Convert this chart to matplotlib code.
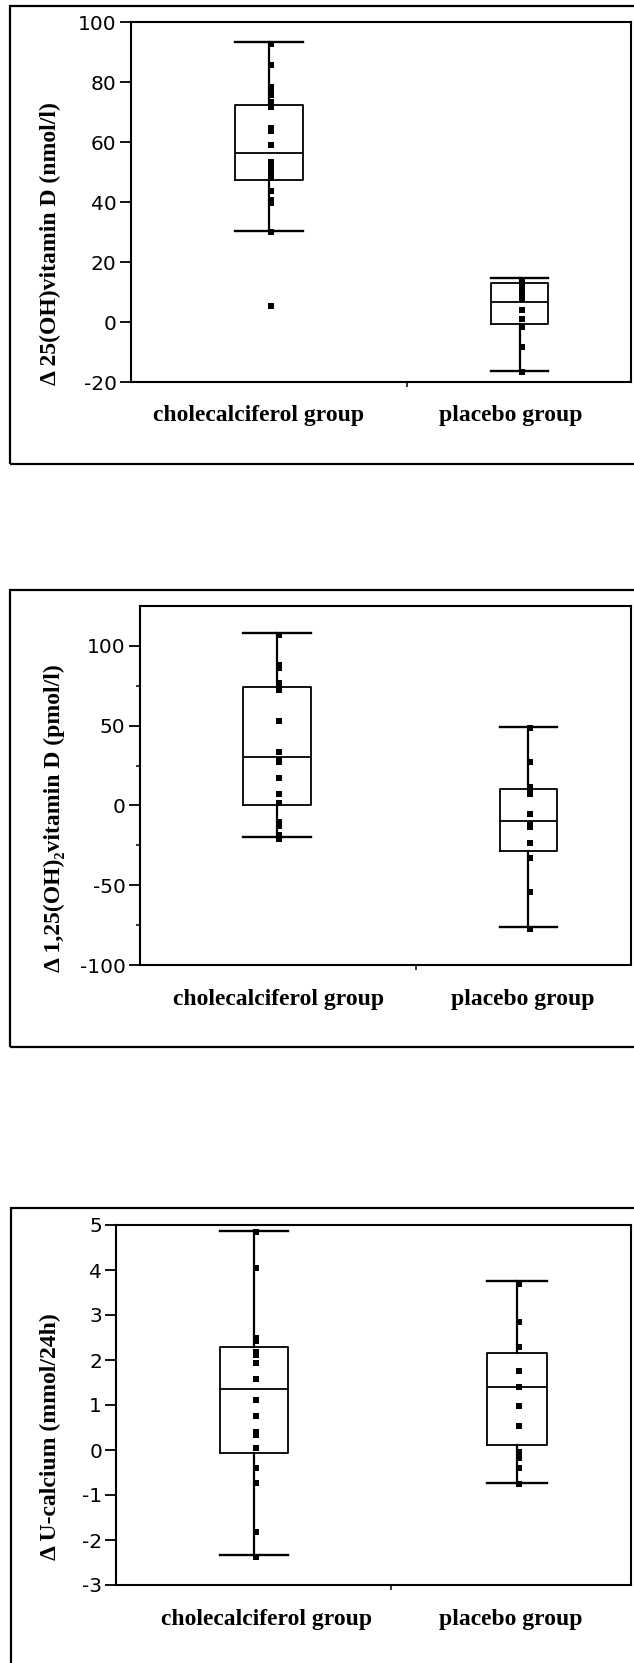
import matplotlib
matplotlib.use('Agg')
import matplotlib.pyplot as plt
from matplotlib.patches import Rectangle

plt.rcParams['axes.unicode_minus'] = False

# группы
groups = ['cholecalciferol group', 'placebo group']

# панель 1: 25(OH)vitamin D
p1_label = 'Δ 25(OH)vitamin D (nmol/l)'
p1_ticks = [-20, 0, 20, 40, 60, 80, 100]
p1_chol = [92.8, 85.8, 78.5, 77.1, 75.8, 73.5, 72.6, 71.8, 64.7, 63.8, 59.0,
           53.5, 52.2, 50.8, 49.1, 48.1, 43.8, 40.8, 39.8, 30.2, 5.5]
p1_plac = [14.0, 13.2, 11.5, 10.3, 9.1, 7.9, 4.1, 1.0, -1.5, -8.2, -16.5]
# whislo, q1, med, q3, whishi
p1_chol_box = [30.5, 47.4, 56.5, 72.4, 93.3]
p1_plac_box = [-16.1, -0.6, 6.7, 13.2, 14.8]

# панель 2: 1,25(OH)2vitamin D
p2_label = 'Δ 1,25(OH)₂vitamin D (pmol/l)'
p2_ticks = [-100, -50, 0, 50, 100]
p2_minor = [-75, -25, 25, 75]
p2_chol = [106.8, 88.0, 86.0, 76.5, 74.0, 72.5, 53.0, 33.3, 28.5, 27.4, 17.0,
           7.0, 1.8, -10.5, -12.6, -18.5, -21.0]
p2_plac = [48.4, 27.1, 11.8, 9.7, 7.2, -5.3, -12.2, -13.6, -23.3, -33.1, -54.0, -77.2]
p2_chol_box = [-19.7, 0.0, 30.4, 74.0, 107.9]
p2_plac_box = [-76.3, -28.5, -9.5, 10.1, 49.2]

# панель 3: U-calcium
p3_label = 'Δ U-calcium (mmol/24h)'
p3_ticks = [-3, -2, -1, 0, 1, 2, 3, 4, 5]
p3_chol = [4.85, 4.05, 2.50, 2.42, 2.18, 2.11, 1.93, 1.57, 1.11, 0.76, 0.41, 0.33,
           0.05, -0.41, -0.74, -1.82, -2.37]
p3_plac = [3.70, 2.85, 2.30, 1.76, 1.39, 0.97, 0.53, -0.04, -0.17, -0.41, -0.76]
p3_chol_box = [-2.34, -0.07, 1.35, 2.28, 4.87]
p3_plac_box = [-0.73, 0.12, 1.40, 2.16, 3.76]

W, H = 634, 1663
fig = plt.figure(figsize=(W / 100, H / 100), dpi=100)


def fx(x):
    return x / W


def fy(y):
    return 1 - y / H


serif = ['Liberation Serif', 'DejaVu Serif']


def panel(frame, box, ylim, ticks, minor, label, lab_pos, cats, data, boxes):
    # рамка вокруг панели
    fl, ft, fb = frame
    fig.add_artist(Rectangle((fx(fl), fy(fb)), fx(660) - fx(fl), (fb - ft) / H,
                             transform=fig.transFigure, fill=False, lw=1.6, ec='black'))
    left, top, right, bottom, sep = box
    ax = fig.add_axes([fx(left), fy(bottom), fx(right) - fx(left), (bottom - top) / H])

    stats = []
    pos = []
    widths = []
    for (cx, w), b in zip(cats, boxes):
        stats.append({'whislo': b[0], 'q1': b[1], 'med': b[2], 'q3': b[3],
                      'whishi': b[4], 'fliers': []})
        pos.append(cx)
        widths.append(w)
    ax.bxp(stats, positions=pos, widths=widths, capwidths=widths, showfliers=False,
           manage_ticks=False,
           boxprops=dict(color='black', lw=1.3),
           whiskerprops=dict(color='black', lw=1.6),
           capprops=dict(color='black', lw=1.7),
           medianprops=dict(color='black', lw=1.3))
    for (cx, w), vals in zip(cats, data):
        ax.plot([cx + 2] * len(vals), vals, 's', color='black', ms=3.7, mew=0)

    ax.set_xlim(left, right)
    ax.set_ylim(*ylim)
    for s in ax.spines.values():
        s.set_linewidth(1.5)
    ax.set_yticks(ticks)
    ax.set_yticks(minor, minor=True)
    ax.tick_params(axis='y', which='major', direction='out', length=8, width=1.3,
                   labelsize=14.5, pad=2)
    ax.tick_params(axis='y', which='minor', direction='out', length=3, width=1.1)
    ax.set_xticks([sep])
    ax.set_xticklabels([])
    ax.tick_params(axis='x', direction='out', length=3.5, width=1.1)

    lx, lb = lab_pos
    fig.text(fx(lx), fy(lb), label, rotation=90, ha='center', va='bottom',
             family=serif, weight='bold', size=17)
    return ax


def cat_labels(xs, y):
    for name, x in zip(groups, xs):
        fig.text(fx(x), fy(y), name, ha='center', va='center', family=serif,
                 weight='bold', size=17)


panel((10, 6, 464), (130.5, 22.3, 631, 382.3, 407), (-20, 100), p1_ticks, [],
      p1_label, (50.5, 385), [(269.3, 68), (519.5, 57)],
      [p1_chol, p1_plac], [p1_chol_box, p1_plac_box])
cat_labels([259, 511], 415)

panel((10, 590, 1047), (139.5, 606, 631, 965, 415.5), (-100, 125), p2_ticks, p2_minor,
      p2_label, (54.6, 972), [(277.3, 68), (528, 57)],
      [p2_chol, p2_plac], [p2_chol_box, p2_plac_box])
cat_labels([279, 523], 1000)

panel((11, 1208, 1670), (116, 1225, 631, 1585, 391), (-3, 5), p3_ticks, [],
      p3_label, (50.5, 1560), [(254, 68), (516.5, 60)],
      [p3_chol, p3_plac], [p3_chol_box, p3_plac_box])
cat_labels([267, 511], 1620)

fig.savefig('out.png', dpi=100)
